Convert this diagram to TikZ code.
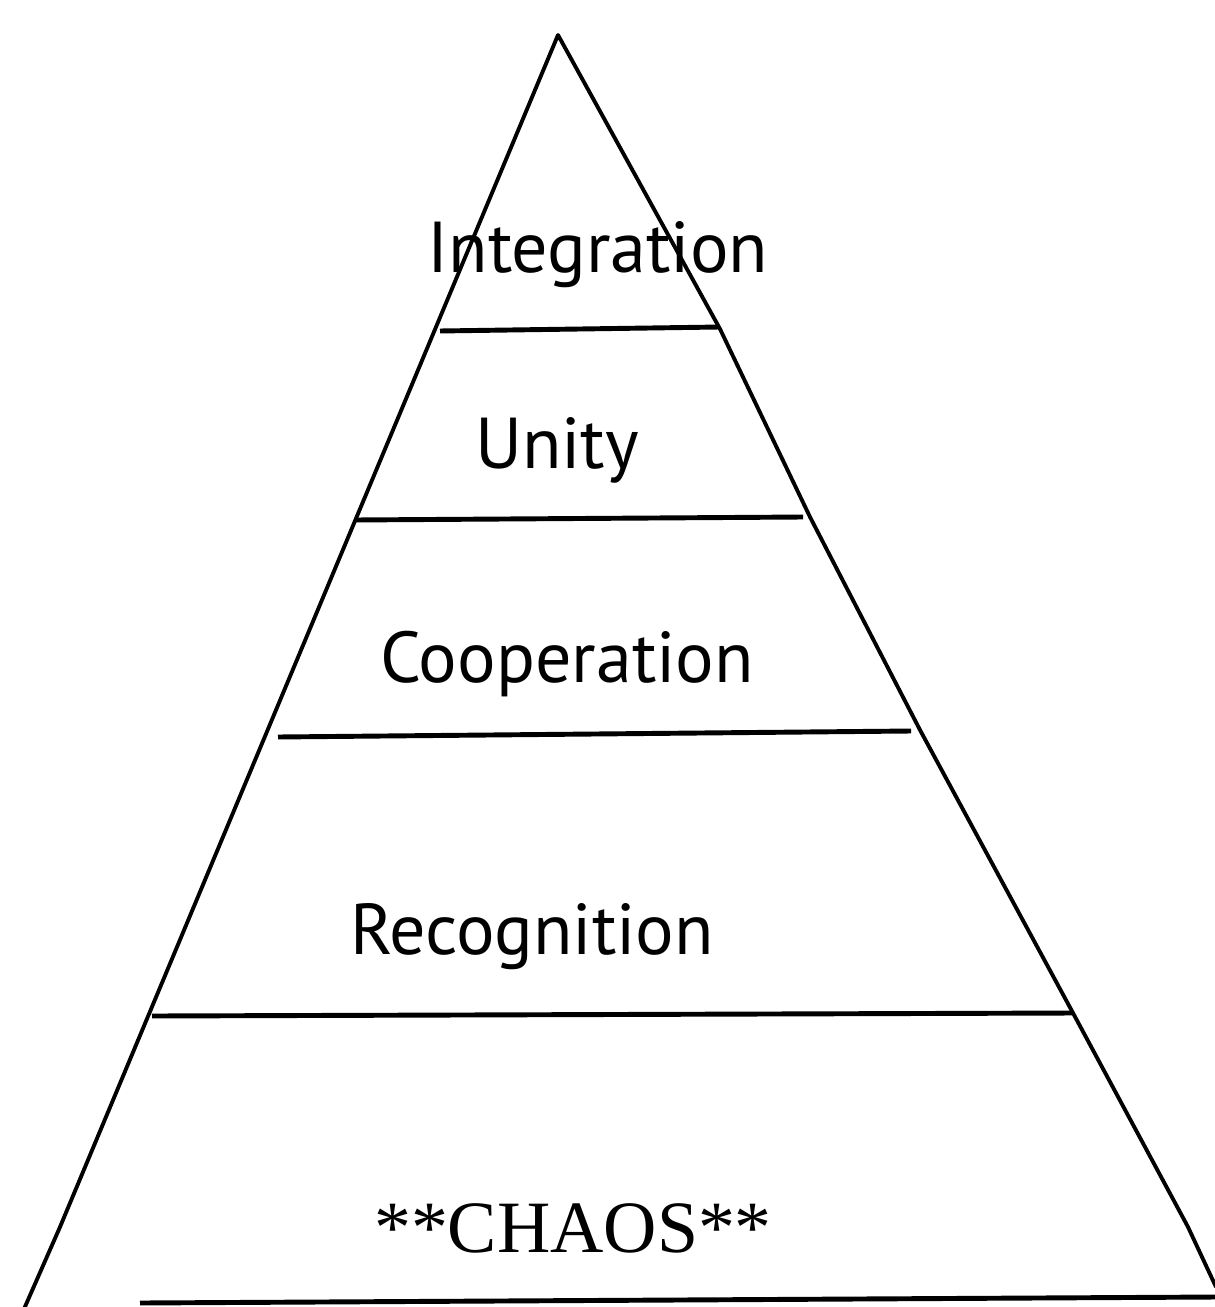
\documentclass[tikz,border=0pt]{standalone}
\usepackage{fontspec}
\setmainfont{PT Sans}
\newfontfamily\chaosfont{Liberation Serif}
\begin{document}
\begin{tikzpicture}[x=0.1mm, y=-0.1mm,
		edge/.style = {line width=1.1pt, line join=round},
		floor/.style = {line width=1.4pt},
		level/.style = {font=\fontsize{20.5}{25}\selectfont, inner sep=0pt, anchor=base}]
		\useasboundingbox (0,0) rectangle (1215,1307);
		%Kulmat
		\coordinate (top) at (558,35);
		\coordinate (bl) at (24,1309);
		\coordinate (br) at (1216,1287);
		\draw[edge] (bl) -- (60,1227) -- (top) -- (720,329) -- (810,517) -- (920,730)
			-- (1073,1013) -- (1188,1227) -- (br);
		%Tasot
		\draw[floor] (440,331) -- (720,327);	% 1
		\draw[floor] (355,520) -- (803,517);	% 2
		\draw[floor] (278,737) -- (911,731);	% 3
		\draw[floor] (152,1016) -- (1073,1013);	% 4
		\draw[floor] (140,1303) -- (1215,1297);	% 5
		%Nimet
		\node[level] (integration) at (598,273) {Integration};
		\node[level] (unity) at (557,468) {Unity};
		\node[level] (cooperation) at (567,682) {Cooperation};
		\node[level] (recognition) at (532,954) {Recognition};
		\node[level, font=\chaosfont\fontsize{21}{25}\selectfont] (chaos) at (573,1252) {**CHAOS**};
\end{tikzpicture}
\end{document}
